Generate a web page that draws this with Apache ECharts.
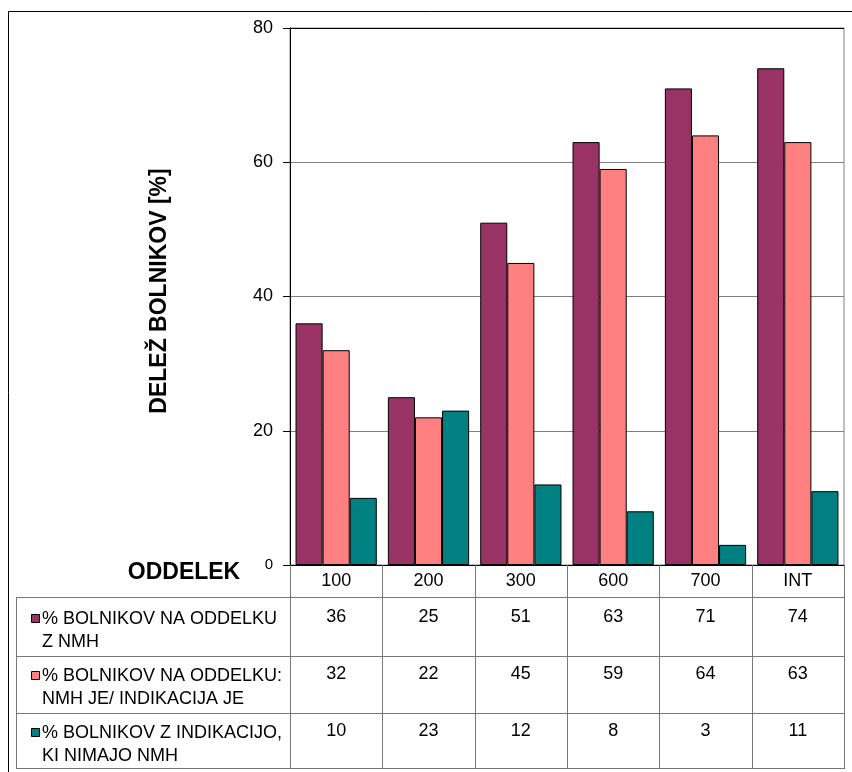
<!DOCTYPE html>
<html>
<head>
<meta charset="utf-8">
<script src="https://cdn.jsdelivr.net/npm/echarts@6/dist/echarts.min.js"></script>
<style>
  html, body { margin: 0; padding: 0; background: #fff; }
  #chart { width: 852px; height: 772px; }
</style>
</head>
<body>
<div id="chart"></div>
<script>
// Departments (ODDELEK)
const categories = ['100', '200', '300', '600', '700', 'INT'];

// Series names, one per table row
const seriesNames = [
  ['% BOLNIKOV NA ODDELKU', 'Z NMH'],
  ['% BOLNIKOV NA ODDELKU:', 'NMH JE/ INDIKACIJA JE'],
  ['% BOLNIKOV Z INDIKACIJO,', 'KI NIMAJO NMH']
];

// Shares of patients [%]
const withNMH = [36, 25, 51, 63, 71, 74];
const nmhAndIndication = [32, 22, 45, 59, 64, 63];
const indicationNoNMH = [10, 23, 12, 8, 3, 11];

const yTicks = [0, 20, 40, 60, 80];

const colors = ['#993366', '#FF8080', '#008080'];
const seriesData = [withNMH, nmhAndIndication, indicationNoNMH];

// Layout of plot area and data table
const W = 852, H = 772;
const plotL = 290, plotR = 844, plotT = 28, plotB = 565;
const tableL = 16;
const rowLines = [597, 656, 713, 768];
const font = 'Liberation Sans, Arial, sans-serif';

const chart = echarts.init(document.getElementById('chart'), null, { renderer: 'canvas' });

// Table rows: value axes sharing the category scale
const rowMargins = [43, 100, 157];
const tableAxes = seriesData.map((vals, i) => ({
  type: 'category',
  gridIndex: 0,
  position: 'bottom',
  data: vals.map(String),
  axisLine: { show: false },
  axisTick: { show: false },
  axisLabel: { margin: rowMargins[i], fontSize: 18, fontFamily: font, color: '#000' }
}));

// Table grid lines and legend column
const graphics = [];
const gray = '#777';
function line(x1, y1, x2, y2, color) {
  graphics.push({ type: 'line', silent: true, z: 10,
    shape: { x1, y1, x2, y2 }, style: { stroke: color || gray, lineWidth: 1 } });
}
rowLines.forEach(y => line(tableL, y + 0.5, plotR, y + 0.5));
line(tableL + 0.5, rowLines[0], tableL + 0.5, rowLines[3] + 1);
const colW = (plotR - plotL) / categories.length;
for (let i = 0; i <= categories.length; i++) {
  const x = Math.round(plotL + i * colW) + 0.5;
  line(x, plotB, x, rowLines[3] + 1);
}

const legendOffsets = [10, 8, 8];
seriesNames.forEach((lines, i) => {
  const top = rowLines[i] + legendOffsets[i];
  graphics.push({ type: 'rect', z: 11, shape: { x: 31.5, y: top + 7.5, width: 8, height: 8 },
    style: { fill: colors[i], stroke: '#000', lineWidth: 1 } });
  graphics.push({ type: 'text', z: 11, x: 42, y: top,
    style: { text: lines.join('\n'), font: '18px ' + font, fill: '#000',
      lineHeight: 23.5, align: 'left', verticalAlign: 'top' } });
});

// Axis titles
graphics.push({ type: 'text', z: 11, x: 160, y: 291, rotation: Math.PI / 2,
  style: { text: 'DELEŽ BOLNIKOV [%]', font: 'bold 23px ' + font, fill: '#000',
    align: 'center', verticalAlign: 'middle' } });
graphics.push({ type: 'text', z: 11, x: 184, y: 573,
  style: { text: 'ODDELEK', font: 'bold 23px ' + font, fill: '#000',
    align: 'center', verticalAlign: 'middle' } });

// Outer frame
graphics.push({ type: 'rect', z: 0, silent: true,
  shape: { x: 8.5, y: 11.5, width: W, height: H },
  style: { fill: null, stroke: '#000', lineWidth: 1 } });

chart.setOption({
  animation: false,
  backgroundColor: '#fff',
  grid: {
    left: plotL, right: W - plotR, top: plotT, bottom: H - plotB,
    show: true, borderColor: '#808080', borderWidth: 1, backgroundColor: 'transparent'
  },
  xAxis: [{
    type: 'category',
    data: categories,
    axisLine: { show: true, lineStyle: { color: '#000', width: 1 } },
    axisTick: { show: false },
    axisLabel: { margin: 7, fontSize: 18, fontFamily: font, color: '#000' }
  }].concat(tableAxes),
  yAxis: {
    type: 'value',
    min: yTicks[0],
    max: yTicks[yTicks.length - 1],
    interval: yTicks[1] - yTicks[0],
    axisLine: { show: true, lineStyle: { color: '#000', width: 1 } },
    axisTick: { show: true, inside: false, length: 7, lineStyle: { color: '#000' } },
    axisLabel: {
      margin: 17, fontSize: 18, fontFamily: font, color: '#000',
      formatter: v => v === 0 ? '{z|0}' : String(v),
      rich: { z: { fontSize: 15, fontFamily: font, color: '#000' } }
    },
    splitLine: { show: true, lineStyle: { color: ['#000', '#808080', '#808080', '#808080', '#000'], width: 1 } }
  },
  series: seriesData.map((vals, i) => ({
    type: 'bar',
    name: seriesNames[i].join(' '),
    data: vals,
    barGap: '0%',
    barCategoryGap: '12%',
    itemStyle: { color: colors[i], borderColor: '#000', borderWidth: 1 },
    z: 3
  })),
  graphic: graphics
});
</script>
</body>
</html>
